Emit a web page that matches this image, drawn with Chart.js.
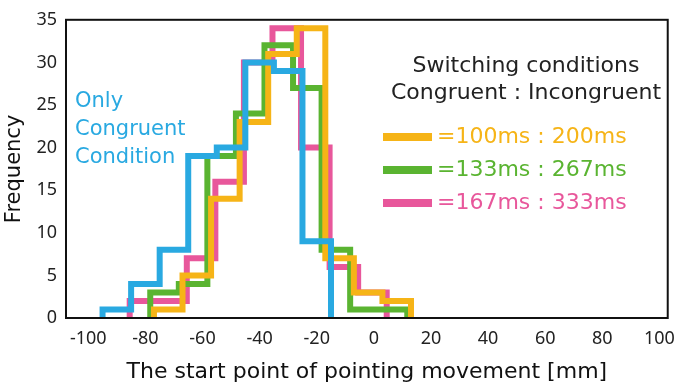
<!DOCTYPE html>
<html>
<head>
<meta charset="utf-8">
<script src="https://cdn.jsdelivr.net/npm/chart.js@4.4.0/dist/chart.umd.min.js"></script>
<style>
  html, body { margin: 0; padding: 0; background: #fff; }
  #wrap { width: 685px; height: 387px; }
</style>
</head>
<body>
<div id="wrap"><canvas id="myChart" width="685" height="387"></canvas></div>
<script>
// left bin edges (mm) and counts; last edge closes the histogram
var blueEdges = [-95, -85, -75, -65, -55, -45, -35, -25, -15];
var blueCounts = [1, 4, 8, 19, 20, 30, 29, 9];
var yellowEdges = [-77, -67, -57, -47, -37, -27, -17, -7, 3, 13];
var yellowCounts = [1, 5, 14, 23, 31, 34, 7, 3, 2];
var greenEdges = [-78.3, -68.3, -58.3, -48.3, -38.3, -28.3, -18.3, -8.3, 1.7, 11.7];
var greenCounts = [3, 4, 19, 24, 32, 27, 8, 1, 1];
var pinkEdges = [-85.5, -75.5, -65.5, -55.5, -45.5, -35.5, -25.5, -15.5, -5.5, 4.5];
var pinkCounts = [2, 2, 7, 16, 30, 34, 20, 6, 3];

var xTicks = [-100, -80, -60, -40, -20, 0, 20, 40, 60, 80, 100];
var yTicks = [0, 5, 10, 15, 20, 25, 30, 35];

var legendRows = [
  {text: '=100ms : 200ms', color: '#f6b417'},
  {text: '=133ms : 267ms', color: '#5ab431'},
  {text: '=167ms : 333ms', color: '#e8579b'}
];

// turn edges + counts into an outline for a stepped line
function outline(edges, counts) {
  var pts = [{x: edges[0], y: 0}];
  for (var i = 0; i < counts.length; i++) {
    pts.push({x: edges[i], y: counts[i]});
  }
  pts.push({x: edges[edges.length - 1], y: 0});
  return pts;
}

function series(label, edges, counts, color) {
  return {
    label: label,
    data: outline(edges, counts),
    borderColor: color,
    backgroundColor: color,
    borderWidth: 6,
    stepped: true,
    pointRadius: 0,
    fill: false,
    showLine: true,
    borderJoinStyle: 'miter',
    borderCapStyle: 'butt'
  };
}

var TEXT_FONT = '"DejaVu Sans", sans-serif';
var TICK_FONT = '"Noto Sans", sans-serif';

var decorations = {
  id: 'decorations',
  afterDraw: function(chart) {
    var ctx = chart.ctx;
    var a = chart.chartArea;
    ctx.save();
    // plot frame
    ctx.strokeStyle = '#111';
    ctx.lineWidth = 2;
    ctx.strokeRect(a.left, a.top, a.right - a.left, a.bottom - a.top);

    // only congruent note
    ctx.fillStyle = '#29a9e1';
    ctx.font = '21px ' + TEXT_FONT;
    ctx.textAlign = 'left';
    ctx.textBaseline = 'middle';
    ctx.fillText('Only', 75, 102);
    ctx.fillText('Congruent', 75, 130);
    ctx.fillText('Condition', 75, 158);

    // legend block
    ctx.font = '22px ' + TEXT_FONT;
    ctx.fillStyle = '#222';
    ctx.textAlign = 'center';
    ctx.fillText('Switching conditions', 526, 66);
    ctx.fillText('Congruent : Incongruent', 526, 93);

    ctx.textAlign = 'left';
    var ys = [137, 170, 203];
    legendRows.forEach(function(r, i) {
      ctx.fillStyle = r.color;
      ctx.fillRect(383, ys[i] - 4, 49, 8);
      ctx.fillText(r.text, 437, ys[i]);
    });
    ctx.restore();
  }
};

var ctx = document.getElementById('myChart').getContext('2d');
var myChart = new Chart(ctx, {
  type: 'scatter',
  data: {
    datasets: [
      series('Only congruent', blueEdges, blueCounts, '#29a9e1'),
      series('100ms : 200ms', yellowEdges, yellowCounts, '#f6b417'),
      series('133ms : 267ms', greenEdges, greenCounts, '#5ab431'),
      series('167ms : 333ms', pinkEdges, pinkCounts, '#e8579b')
    ]
  },
  options: {
    responsive: false,
    animation: false,
    layout: {padding: {top: 14, right: 8, left: 0, bottom: 0}},
    plugins: {
      legend: {display: false},
      tooltip: {enabled: false}
    },
    scales: {
      x: {
        type: 'linear',
        min: -107.8,
        max: 102.9,
        afterBuildTicks: function(axis) {
          axis.ticks = xTicks.map(function(v) { return {value: v}; });
        },
        afterFit: function(axis) { axis.height = 69; },
        grid: {display: false, drawTicks: false},
        border: {display: false},
        ticks: {
          padding: 10,
          color: '#222',
          maxRotation: 0,
          autoSkip: false,
          font: {family: TICK_FONT, size: 18}
        },
        title: {
          display: true,
          text: 'The start point of pointing movement [mm]',
          color: '#111',
          font: {family: TEXT_FONT, size: 22},
          padding: {top: 6, bottom: 2}
        }
      },
      y: {
        min: 0,
        max: 35,
        afterBuildTicks: function(axis) {
          axis.ticks = yTicks.map(function(v) { return {value: v}; });
        },
        afterFit: function(axis) { axis.width = 66; },
        grid: {display: false, drawTicks: false},
        border: {display: false},
        ticks: {
          padding: 9,
          color: '#222',
          font: {family: TICK_FONT, size: 18}
        },
        title: {
          display: true,
          text: 'Frequency',
          color: '#111',
          font: {family: TEXT_FONT, size: 21},
          padding: {top: 2, bottom: 0}
        }
      }
    }
  },
  plugins: [decorations]
});
</script>
</body>
</html>
